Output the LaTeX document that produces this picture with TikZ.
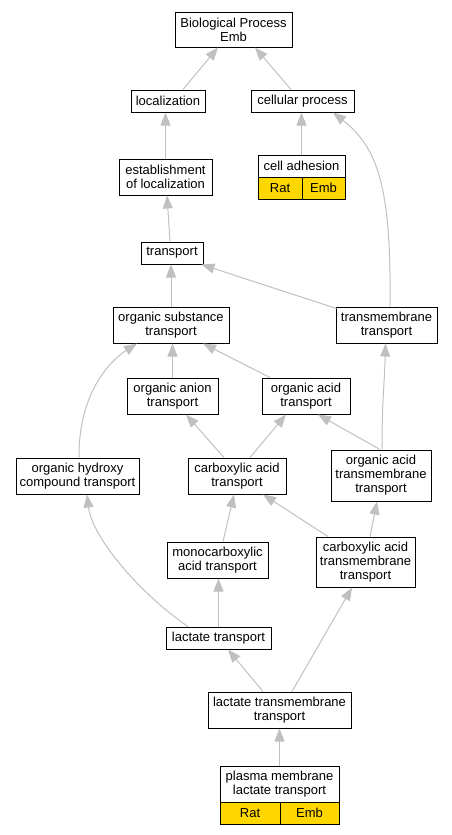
\documentclass[tikz,border=0pt]{standalone}
\usepackage{fontspec}
\setmainfont{Liberation Sans}
\usetikzlibrary{arrows.meta,calc}
\definecolor{edgec}{RGB}{192,192,192}
\definecolor{goldc}{RGB}{255,215,0}
\tikzset{
  gobox/.style={draw=black, line width=1pt, fill=white, inner sep=0pt, align=center,
    font=\fontsize{13}{14}\selectfont, anchor=center},
  goldbox/.style={gobox, fill=goldc},
  isa/.style={draw=edgec, line width=1pt, -{Triangle[length=13pt,width=10pt,fill=edgec]}},
}
\begin{document}
\begin{tikzpicture}[x=1pt,y=-1pt]
\useasboundingbox (0,0) rectangle (452,835);
% nodes
\node[gobox, minimum width=117pt, minimum height=35pt] (bp) at (233.5,29.5) {Biological Process\\Emb};
\node[gobox, minimum width=74pt, minimum height=22pt] (loc) at (168,101) {localization};
\node[gobox, minimum width=103pt, minimum height=22pt] (cp) at (302.5,101) {cellular process};
\node[gobox, minimum width=93pt, minimum height=36pt] (est) at (165.5,177) {establishment\\of localization};
\node[gobox, minimum width=87pt, minimum height=22pt] (cah) at (301.5,166) {cell adhesion};
\node[goldbox, minimum width=44pt, minimum height=22pt] (cahrat) at (280,188) {Rat};
\node[goldbox, minimum width=43pt, minimum height=22pt] (cahemb) at (323.5,188) {Emb};
\node[gobox, minimum width=62pt, minimum height=22pt] (tr) at (172,253) {transport};
\node[gobox, minimum width=116pt, minimum height=36pt] (ost) at (171,325) {organic substance\\transport};
\node[gobox, minimum width=101pt, minimum height=36pt] (tmt) at (386.5,325) {transmembrane\\transport};
\node[gobox, minimum width=91pt, minimum height=36pt] (oan) at (172.5,396) {organic anion\\transport};
\node[gobox, minimum width=88pt, minimum height=36pt] (oac) at (306,396) {organic acid\\transport};
\node[gobox, minimum width=123pt, minimum height=36pt] (ohc) at (77.5,476) {organic hydroxy\\compound transport};
\node[gobox, minimum width=98pt, minimum height=36pt] (cat) at (237,476) {carboxylic acid\\transport};
\node[gobox, minimum width=100pt, minimum height=51pt] (oatm) at (381,475.5) {organic acid\\transmembrane\\transport};
\node[gobox, minimum width=101pt, minimum height=36pt] (mono) at (217.5,560) {monocarboxylic\\acid transport};
\node[gobox, minimum width=99pt, minimum height=50pt] (catm) at (365.5,562) {carboxylic acid\\transmembrane\\transport};
\node[gobox, minimum width=105pt, minimum height=22pt] (lt) at (218.5,638) {lactate transport};
\node[gobox, minimum width=143pt, minimum height=36pt] (ltm) at (279.5,710) {lactate transmembrane\\transport};
\node[gobox, minimum width=119pt, minimum height=36pt] (pm) at (279.5,784) {plasma membrane\\lactate transport};
\node[goldbox, minimum width=60pt, minimum height=22pt] (pmrat) at (250,813) {Rat};
\node[goldbox, minimum width=59pt, minimum height=22pt] (pmemb) at (309.5,813) {Emb};
% edges
\draw[isa] ($(loc.north)+(15,0)$) -- ($(bp.south)+(-15.5,0)$);
\draw[isa] ($(cp.north)+(-11.5,0)$) -- ($(bp.south)+(21.5,0)$);
\draw[isa] (est.north) -- (est.north |- loc.south);
\draw[isa] (cah.north) -- (cah.north |- cp.south);
\draw[isa] ($(tr.north)+(-2,0)$) -- ($(est.south)+(1.5,0)$);
\draw[isa] ($(tmt.north)+(3.5,0)$) .. controls ($(tmt.north)+(5,-120)$) and ($(cp.south)+(75,35)$) .. ($(cp.south)+(30.5,0)$);
\draw[isa] ($(tmt.north west)+(1,2)$) -- ($(tr.south east)+(-2,0)$);
\draw[isa] (ost.north) -- (ost.north |- tr.south);
\draw[isa] (oan.north) -- (oan.north |- ost.south);
\draw[isa] ($(oac.north)+(-36,0)$) -- ($(ost.south)+(32,0)$);
\draw[isa] ($(ohc.north)+(1.5,0)$) .. controls ($(ohc.north)+(1,-60)$) and ($(ost.south)+(-65,20)$) .. ($(ost.south)+(-34,0)$);
\draw[isa] ($(cat.north)+(-13,0)$) -- ($(oan.south)+(13.5,0)$);
\draw[isa] ($(cat.north)+(13,0)$) -- ($(oac.south)+(-20,0)$);
\draw[isa] ($(oatm.north)+(-1,0)$) -- ($(oac.south)+(12,0)$);
\draw[isa] ($(oatm.north)+(1,0)$) .. controls ($(oatm.north)+(1,-50)$) and ($(tmt.south)+(-2,40)$) .. ($(tmt.south)+(-1,0)$);
\draw[isa] ($(mono.north)+(5.5,0)$) -- ($(cat.south)+(-3,0)$);
\draw[isa] ($(catm.north)+(-37.5,0)$) -- ($(cat.south)+(26,0)$);
\draw[isa] ($(catm.north)+(4.5,0)$) -- ($(oatm.south)+(-4,0)$);
\draw[isa] (lt.north) -- (lt.north |- mono.south);
\draw[isa] ($(lt.north)+(-30.5,0)$) .. controls ($(lt.north)+(-75,-30)$) and ($(ohc.south)+(15,45)$) .. ($(ohc.south)+(9.5,0)$);
\draw[isa] ($(ltm.north)+(-16.5,0)$) -- ($(lt.south)+(9.5,0)$);
\draw[isa] ($(ltm.north)+(12.5,0)$) -- ($(catm.south)+(-13.5,0)$);
\draw[isa] (pm.north) -- (pm.north |- ltm.south);
\end{tikzpicture}
\end{document}
